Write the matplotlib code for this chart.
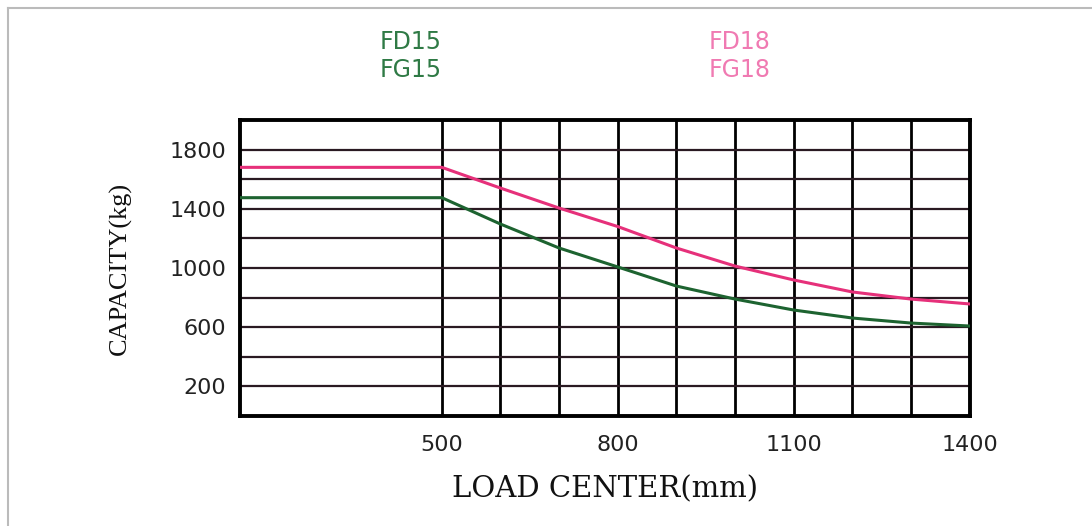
import matplotlib.pyplot as plt
from matplotlib.lines import Line2D

# load center (mm) and rated capacity (kg)
load_center = [156, 500, 600, 700, 800, 900, 1000, 1100, 1200, 1300, 1400]
cap_fd18 = [1680, 1680, 1540, 1405, 1280, 1135, 1013, 919, 838, 790, 757]
cap_fd15 = [1475, 1475, 1297, 1135, 1007, 878, 790, 716, 662, 628, 608]

x_ticks = [500, 800, 1100, 1400]
y_ticks = [200, 600, 1000, 1400, 1800]

fig = plt.figure(figsize=(10.92, 5.26), dpi=100)
ax = fig.add_axes([0.2198, 0.2091, 0.888 - 0.2198, 0.7719 - 0.2091])

ax.plot(load_center, cap_fd18, color='#e6307a', lw=2.2, zorder=3)
ax.plot(load_center, cap_fd15, color='#1d6330', lw=2.2, zorder=3)

ax.set_xlim(156, 1400)
ax.set_ylim(0, 2000)

# grid: every 100 mm / 200 kg
for xv in range(500, 1400, 100):
    ax.axvline(xv, color='black', lw=2.0, zorder=1)
for yv in range(200, 2000, 200):
    ax.axhline(yv, color='#2a1a22', lw=1.6, zorder=1)

ax.set_xticks(x_ticks)
ax.set_yticks(y_ticks)
ax.tick_params(axis='x', length=0, pad=14, labelsize=16)
ax.tick_params(axis='y', length=0, pad=10, labelsize=16)
for lab in ax.get_xticklabels() + ax.get_yticklabels():
    lab.set_family('DejaVu Sans')
    lab.set_color('#222222')
for sp in ax.spines.values():
    sp.set_linewidth(2.8)
    sp.set_color('black')

ax.set_xlabel('LOAD CENTER(mm)', family='DejaVu Serif', fontsize=21,
              labelpad=14, color='#111111')
ax.set_ylabel('CAPACITY(kg)', family='Liberation Serif', fontsize=19,
              labelpad=27, color='#111111')

# model labels above the plot
green_txt = '#2f7a45'
pink_txt = '#f07ab2'
for label, x, y, c in [('FD15', 411, 42, green_txt), ('FG15', 411, 70, green_txt),
                       ('FD18', 740, 42, pink_txt), ('FG18', 740, 70, pink_txt)]:
    fig.text(x / 1092, 1 - y / 526, label, color=c, fontsize=17,
             family='DejaVu Sans', ha='center', va='center')

# thin grey frame along top and left edges
fig.add_artist(Line2D([8 / 1092, 1], [1 - 8 / 526, 1 - 8 / 526],
                      transform=fig.transFigure, color='#bbbbbb', lw=1.5))
fig.add_artist(Line2D([8 / 1092, 8 / 1092], [0, 1 - 8 / 526],
                      transform=fig.transFigure, color='#bbbbbb', lw=1.5))

fig.savefig('out.png', dpi=100)
